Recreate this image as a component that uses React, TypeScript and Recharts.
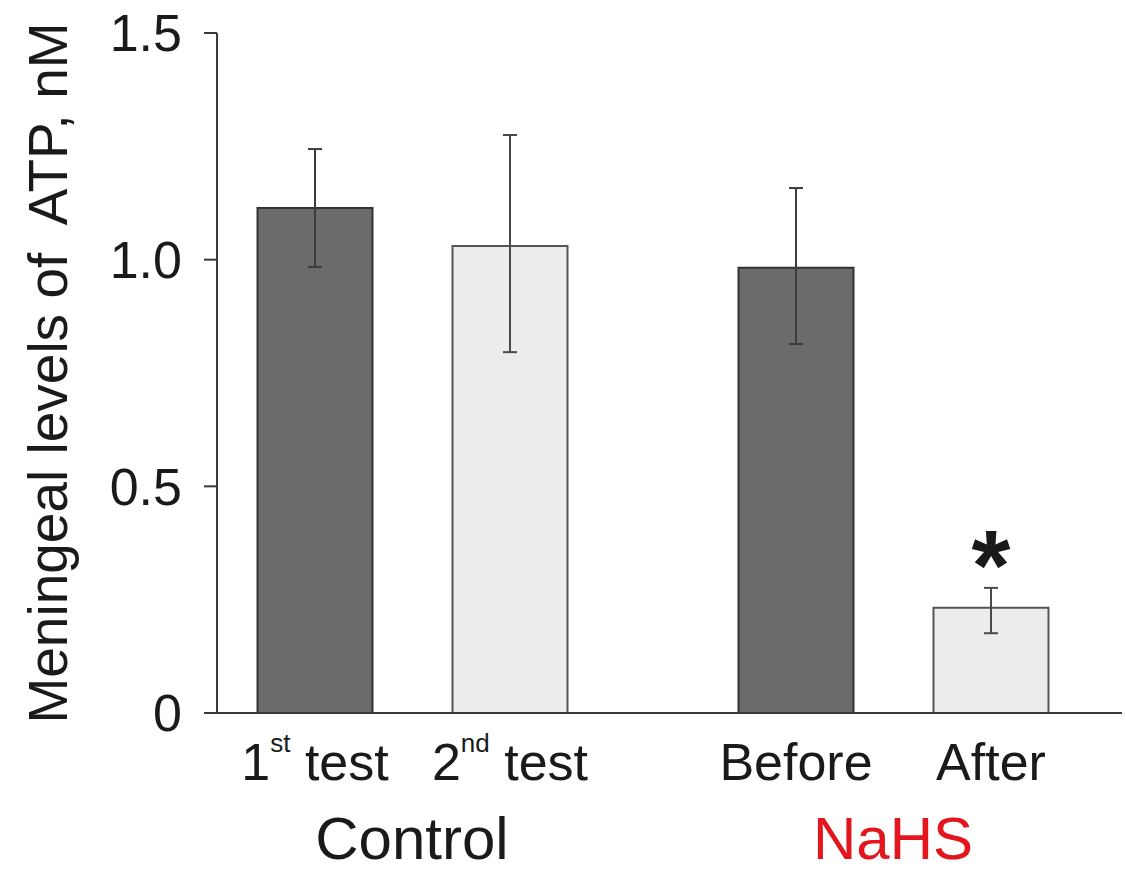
import React from 'react';
import { BarChart, Bar, XAxis, YAxis, ErrorBar, LabelList, Label } from 'recharts';

const categories = ['Control', 'NaHS'];
const categoryColors = ['#1a1a1a', '#e3161d'];
const firstLabels = ['1st test', 'Before'];
const secondLabels = ['2nd test', 'After'];
const firstMeans = [1.114, 0.982];
const firstUpper = [1.244, 1.158];
const firstLower = [0.984, 0.814];
const secondMeans = [1.03, 0.232];
const secondUpper = [1.275, 0.276];
const secondLower = [0.796, 0.176];
const significance = ['', '*'];
const yTicks = [0, 0.5, 1.0, 1.5];
const yLabel = 'Meningeal levels of  ATP, nM';

const FONT = '"Liberation Sans", Arial, Helvetica, sans-serif';
const TEXT = '#1a1a1a';

const data = categories.map((c, i) => ({
  category: c,
  first: firstMeans[i],
  second: secondMeans[i],
  firstErr: [firstMeans[i] - firstLower[i], firstUpper[i] - firstMeans[i]],
  secondErr: [secondMeans[i] - secondLower[i], secondUpper[i] - secondMeans[i]],
  firstLabel: firstLabels[i],
  secondLabel: secondLabels[i],
  sig: significance[i],
}));

function BarLabel(props: any) {
  const { x, y, width, height, value } = props;
  const cx = Number(x) + Number(width) / 2;
  const base = Number(y) + Number(height);
  const m = /^(\d+)(st|nd|rd|th)\s+(.*)$/.exec(String(value));
  return (
    <text x={cx} y={base + 67} textAnchor="middle" fontSize={52} fontFamily={FONT} fill={TEXT}>
      {m ? (
        <>
          {m[1]}
          <tspan dy={-28} fontSize={26}>{m[2]}</tspan>
          <tspan dy={28} fontSize={52}>{'\u00a0' + m[3]}</tspan>
        </>
      ) : (
        value
      )}
    </text>
  );
}

function SigLabel(props: any) {
  const { x, y, width, value } = props;
  if (!value) return null;
  const cx = Number(x) + Number(width) / 2;
  return (
    <text x={cx} y={Number(y) - 8} textAnchor="middle" fontSize={100} fontWeight="bold" fontFamily={FONT} fill={TEXT}>
      {value}
    </text>
  );
}

function CategoryTick(props: any) {
  const { x, y, payload } = props;
  const idx = categories.indexOf(payload.value);
  return (
    <text x={x} y={y + 146} textAnchor="middle" fontSize={60} fontFamily={FONT} fill={categoryColors[idx]}>
      {payload.value}
    </text>
  );
}

function YLabel(props: any) {
  const vb = props.viewBox || {};
  const x0 = (vb.x || 0) + 67;
  const y0 = (vb.y || 0) + (vb.height || 0) / 2;
  return (
    <text
      x={x0}
      y={y0}
      transform={`rotate(-90, ${x0}, ${y0})`}
      textAnchor="middle"
      fontSize={55}
      fontFamily={FONT}
      fill={TEXT}
      style={{ whiteSpace: 'pre' }}
    >
      {yLabel}
    </text>
  );
}

export default function App() {
  return (
    <div style={{ position: 'absolute', left: 0, top: 0, background: '#fff' }}>
      <BarChart
        width={1126}
        height={873}
        data={data}
        margin={{ top: 33, right: 4, left: 0, bottom: 0 }}
        barSize={115}
        barGap={80}
      >
        <XAxis
          dataKey="category"
          height={160}
          padding={{ left: -45.5, right: -11.5 }}
          tickLine={false}
          tickSize={0}
          tickMargin={0}
          axisLine={{ stroke: '#3a3a3a', strokeWidth: 2 }}
          tick={<CategoryTick />}
          interval={0}
        />
        <YAxis
          width={217}
          domain={[0, 1.5]}
          ticks={yTicks}
          tickFormatter={(v: number) => (v === 0 ? '0' : v.toFixed(1))}
          tickSize={13}
          tickMargin={22}
          tickLine={{ stroke: '#3a3a3a', strokeWidth: 2 }}
          axisLine={{ stroke: '#3a3a3a', strokeWidth: 2 }}
          tick={{ fontSize: 52, fill: TEXT, fontFamily: FONT }}
        >
          <Label content={<YLabel />} />
        </YAxis>
        <Bar dataKey="first" fill="#6b6b6b" stroke="#333" strokeWidth={2} isAnimationActive={false}>
          <ErrorBar dataKey="firstErr" width={7} stroke="#3c3c3c" strokeWidth={2} isAnimationActive={false} />
          <LabelList dataKey="firstLabel" content={<BarLabel />} />
        </Bar>
        <Bar dataKey="second" fill="#ececec" stroke="#555" strokeWidth={2} isAnimationActive={false}>
          <ErrorBar dataKey="secondErr" width={7} stroke="#4a4a4a" strokeWidth={2} isAnimationActive={false} />
          <LabelList dataKey="secondLabel" content={<BarLabel />} />
          <LabelList dataKey="sig" content={<SigLabel />} />
        </Bar>
      </BarChart>
    </div>
  );
}
